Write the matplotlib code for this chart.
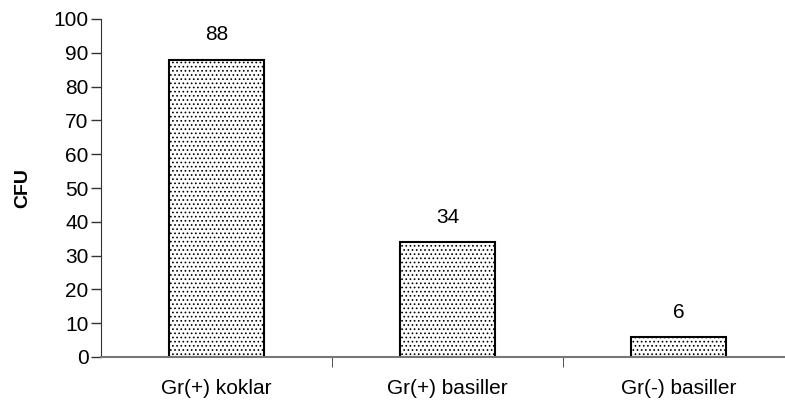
import matplotlib.pyplot as plt
import numpy as np

categories = ["Gr(+) koklar", "Gr(+) basiller", "Gr(-) basiller"]
values = [88, 34, 6]

plt.rcParams['font.family'] = ['Liberation Sans', 'DejaVu Sans']
plt.rcParams['hatch.color'] = '#333333'
plt.rcParams['hatch.linewidth'] = 0.7

fig = plt.figure(figsize=(7.85, 4.0), dpi=100)
# axes span a bit past the right edge of the image, as in the original
ax = fig.add_axes([101 / 785, 43 / 400, 693 / 785, 338 / 400])

x = np.arange(len(categories))
ax.bar(x, values, width=0.41, color='white', edgecolor='black',
       linewidth=1.5, hatch='....', zorder=2)

for xi, v in zip(x, values):
    ax.text(xi, v + 4.5, str(v), ha='center', va='bottom', fontsize=15)

ax.set_xlim(-0.5, len(categories) - 0.5)
ax.set_ylim(0, 100)
ax.set_yticks(range(0, 101, 10))
ax.tick_params(axis='y', labelsize=15, length=7, direction='out', width=1,
               color='#333333', pad=2)
ax.set_xticks(x)
ax.set_xticklabels(categories, fontsize=15)
ax.tick_params(axis='x', length=0, pad=16)
ax.set_xticks(np.arange(0.5, len(categories)), minor=True)
ax.tick_params(axis='x', which='minor', length=7, direction='out', color='#333333')

ax.set_ylabel("CFU", fontsize=14, fontweight='bold')
ax.yaxis.set_label_coords(-0.101, 0.5)

for side in ['top', 'right']:
    ax.spines[side].set_visible(False)
ax.spines['left'].set_color('#333333')
ax.spines['bottom'].set_color('#777777')
ax.spines['bottom'].set_linewidth(1.5)

fig.savefig("out.png", dpi=100)
